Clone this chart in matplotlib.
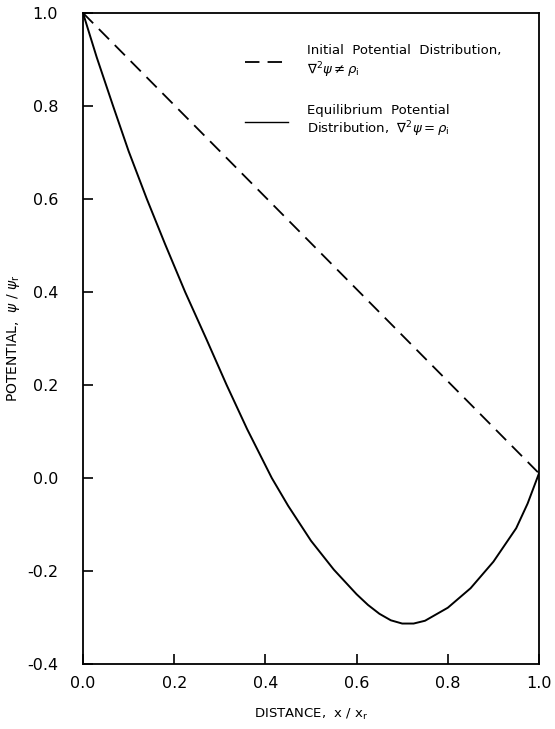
"""Potential distribution: initial (linear) vs equilibrium profile."""

import matplotlib

matplotlib.use("Agg")
import matplotlib.pyplot as plt
from matplotlib.lines import Line2D

# values
initial_x = [0.0, 1.0]
initial_psi = [1.0, 0.01]

equilibrium_x = [0.0, 0.03, 0.066, 0.10, 0.14, 0.18, 0.224, 0.27, 0.315, 0.36,
                 0.414, 0.45, 0.50, 0.55, 0.60, 0.625, 0.65, 0.675, 0.70, 0.725,
                 0.75, 0.80, 0.85, 0.90, 0.95, 0.975, 1.0]
equilibrium_psi = [1.0, 0.905, 0.80, 0.703, 0.60, 0.503, 0.40, 0.30, 0.20, 0.105,
                   0.0, -0.06, -0.135, -0.197, -0.25, -0.273, -0.292, -0.306, -0.313, -0.313,
                   -0.307, -0.279, -0.237, -0.180, -0.108, -0.055, 0.01]

x_ticks = [0.0, 0.2, 0.4, 0.6, 0.8, 1.0]
y_ticks = [-0.4, -0.2, 0.0, 0.2, 0.4, 0.6, 0.8, 1.0]

initial_label = "Initial  Potential  Distribution,\n$\\nabla^2\\psi \\neq \\rho_\\mathregular{i}$"
equilibrium_label = "Equilibrium  Potential\nDistribution,  $\\nabla^2\\psi = \\rho_\\mathregular{i}$"

W, H = 555, 729
fig = plt.figure(figsize=(W / 100, H / 100), dpi=100)
ax = fig.add_axes([83 / W, 1 - 664 / H, (539 - 83) / W, (664 - 13) / H])

ax.plot(initial_x, initial_psi, color="black", lw=1.3, dashes=(8, 4.5))
ax.plot(equilibrium_x, equilibrium_psi, color="black", lw=1.4)

ax.set_xlim(0.0, 1.0)
ax.set_ylim(-0.4, 1.0)
ax.set_xticks(x_ticks)
ax.set_yticks(y_ticks)
ax.set_xticklabels([f"{t:.1f}" for t in x_ticks])
ax.set_yticklabels([f"{t:.1f}" for t in y_ticks])
ax.tick_params(direction="in", length=7, width=1.2, labelsize=11.5,
               top=False, right=False)
ax.tick_params(axis="y", pad=18)
ax.tick_params(axis="x", pad=9)
for spine in ax.spines.values():
    spine.set_linewidth(1.3)

ax.set_xlabel("DISTANCE,  x / x$_\\mathregular{r}$", fontsize=9.5)
ax.xaxis.set_label_coords(0.5, -0.066)
ax.set_ylabel("POTENTIAL,  $\\psi$ / $\\psi_\\mathregular{r}$", fontsize=10)
ax.yaxis.set_label_coords(-0.133, 0.5)

handles = [
    Line2D([], [], color="black", lw=1.3, dashes=(8, 4.5)),
    Line2D([], [], color="black", lw=1.0),
]
ax.legend(handles, [initial_label, equilibrium_label], loc="upper left",
          bbox_to_anchor=(0.33, 0.97), frameon=False, fontsize=9.5,
          handlelength=3.2, handletextpad=1.5, labelspacing=1.8)

fig.savefig("out.png", dpi=100)
